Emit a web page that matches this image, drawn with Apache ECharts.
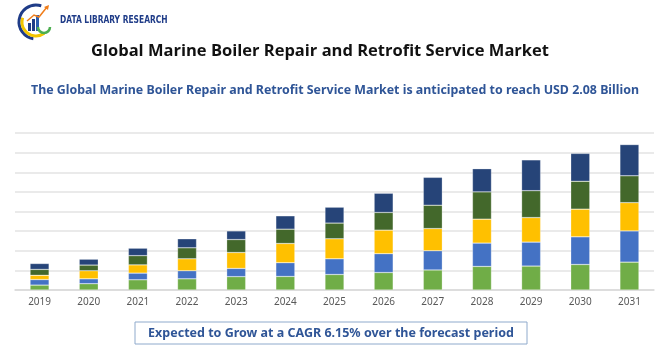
<!DOCTYPE html>
<html lang="en">
<head>
    <meta charset="UTF-8">
    <title>Global Marine Boiler Repair and Retrofit Service Market</title>
    <script src="https://cdn.jsdelivr.net/npm/echarts@6/dist/echarts.min.js"></script>
    <style>
        html, body { margin: 0; padding: 0; background: #fff; }
    </style>
</head>
<body>
    <div id="graph" style="width: 670px; height: 350px;"></div>

    <script>
        // values (no y scale shown, units are arbitrary)
        var years = ['2019', '2020', '2021', '2022', '2023', '2024', '2025', '2026', '2027', '2028', '2029', '2030', '2031'];
        var seg1 = [0.25, 0.32, 0.52, 0.57, 0.68, 0.69, 0.79, 0.89, 1.02, 1.20, 1.22, 1.30, 1.42];
        var seg2 = [0.28, 0.25, 0.34, 0.41, 0.42, 0.70, 0.80, 0.96, 0.98, 1.19, 1.22, 1.41, 1.59];
        var seg3 = [0.22, 0.41, 0.42, 0.61, 0.81, 0.98, 1.02, 1.20, 1.13, 1.22, 1.25, 1.41, 1.44];
        var seg4 = [0.30, 0.29, 0.47, 0.56, 0.66, 0.73, 0.80, 0.90, 1.19, 1.39, 1.37, 1.42, 1.37];
        var seg5 = [0.30, 0.30, 0.38, 0.46, 0.44, 0.68, 0.81, 0.98, 1.42, 1.18, 1.57, 1.42, 1.59];
        var colors = ['#70ad47', '#4472c4', '#ffc000', '#43682b', '#264478'];

        var s = [];
        [seg1, seg2, seg3, seg4, seg5].forEach(function (d, i) {
            s.push({
                type: 'bar',
                stack: 'total',
                data: d,
                barWidth: 19,
                itemStyle: { color: colors[i], borderColor: 'rgba(255,255,255,0.5)', borderWidth: 0.5 }
            });
        });

        var myChart = echarts.init(document.getElementById('graph'));
        var option = {
            animation: false,
            title: [{
                text: 'Global Marine Boiler Repair and Retrofit Service Market',
                left: 315,
                textAlign: 'center',
                top: 38,
                textStyle: { fontFamily: 'Open Sans', fontWeight: 'bold', fontSize: 16.5, color: '#111' }
            }, {
                text: 'The Global Marine Boiler Repair and Retrofit Service Market is anticipated to reach USD 2.08 Billion',
                left: 330,
                textAlign: 'center',
                top: 79,
                textStyle: { fontFamily: 'Noto Sans', fontWeight: 'bold', fontSize: 12.4, color: '#2f5597' }
            }],
            grid: { left: 15, right: 16, top: 133, bottom: 60 },
            xAxis: {
                type: 'category',
                data: years,
                axisTick: { show: false },
                axisLine: { lineStyle: { color: '#d9d9d9', width: 1.5 } },
                axisLabel: { color: '#595959', fontSize: 10, margin: 7, fontFamily: 'Noto Sans' }
            },
            yAxis: {
                type: 'value',
                min: 0,
                max: 8,
                interval: 1,
                axisLabel: { show: false },
                splitLine: { lineStyle: { color: '#e3e3e3', width: 1.5 } }
            },
            series: s,
            graphic: [
                // logo
                { type: 'arc', shape: { cx: 36, cy: 22, r: 17, startAngle: Math.PI * 0.55, endAngle: Math.PI * 1.6 },
                  style: { stroke: '#1f3c88', lineWidth: 3, fill: null } },
                { type: 'arc', shape: { cx: 36, cy: 22, r: 14, startAngle: Math.PI * 0.3, endAngle: Math.PI * 1.1 },
                  style: { stroke: '#f2c500', lineWidth: 3, fill: null } },
                { type: 'rect', shape: { x: 28, y: 23, width: 3, height: 8 }, style: { fill: '#1f3c88' } },
                { type: 'rect', shape: { x: 32, y: 19, width: 3, height: 12 }, style: { fill: '#1f3c88' } },
                { type: 'rect', shape: { x: 36, y: 15, width: 3, height: 16 }, style: { fill: '#2a5db0' } },
                { type: 'polyline', shape: { points: [[27, 21], [34, 15], [39, 17], [47, 7]] },
                  style: { stroke: '#f07d1a', lineWidth: 1.5, fill: null } },
                { type: 'polygon', shape: { points: [[44, 7], [49, 5], [48, 10]] }, style: { fill: '#f07d1a' } },
                { type: 'arc', shape: { cx: 44, cy: 27, r: 6, startAngle: 0, endAngle: Math.PI },
                  style: { stroke: '#4caf50', lineWidth: 2.5, fill: null } },
                { type: 'text', x: 60, y: 15, scaleX: 0.76,
                  style: { text: 'DATA LIBRARY RESEARCH', font: 'bold 11px "Liberation Sans Narrow", "DejaVu Sans Condensed", sans-serif', fill: '#1f3c88' } },
                // footer box
                { type: 'rect', shape: { x: 135, y: 322, width: 392, height: 22 },
                  style: { fill: '#fff', stroke: '#8faacc', lineWidth: 1 } },
                { type: 'text', x: 331, y: 333,
                  style: { text: 'Expected to Grow at a CAGR 6.15% over the forecast period', align: 'center', verticalAlign: 'middle',
                           font: 'bold 12.5px "Noto Sans", sans-serif', fill: '#2f5597' } }
            ]
        };
        myChart.setOption(option);
    </script>
</body>
</html>
